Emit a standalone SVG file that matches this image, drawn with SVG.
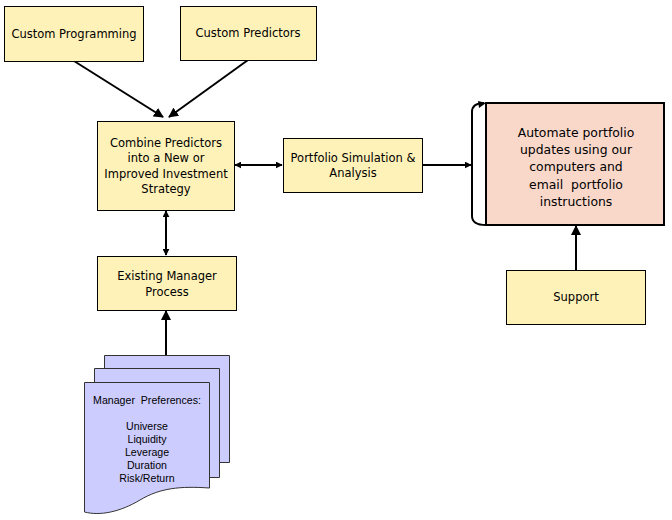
<svg xmlns="http://www.w3.org/2000/svg" width="672" height="520" viewBox="0 0 672 520">
<defs>
<marker id="ah" viewBox="0 0 10 10" refX="9" refY="5" markerWidth="7" markerHeight="7" markerUnits="userSpaceOnUse" orient="auto-start-reverse">
<path d="M0,0 L10,5 L0,10 Z" fill="#000"/>
</marker>
<marker id="ah2" viewBox="0 0 10 10" refX="9" refY="5" markerWidth="10" markerHeight="10" markerUnits="userSpaceOnUse" orient="auto-start-reverse">
<path d="M0,0 L10,5 L0,10 Z" fill="#000"/>
</marker>
<style>
.box{fill:#FFF2B8;stroke:#000;stroke-width:1}
.t{font-family:"DejaVu Sans",Verdana,sans-serif;font-size:11.5px;text-anchor:middle;fill:#000}
.ta{font-family:"DejaVu Sans",Verdana,sans-serif;font-size:12.4px;text-anchor:middle;fill:#000}
.td{font-family:"Liberation Sans",Arial,sans-serif;font-size:10.6px;text-anchor:middle;fill:#000}
.c{fill:none;stroke:#000;stroke-width:2}
.doc{fill:#CCCCFF;stroke:#333;stroke-width:1}
</style>
</defs>
<rect width="672" height="520" fill="#fff"/>
<g id="connectors">
<line class="c" x1="74" y1="61" x2="163" y2="117" marker-end="url(#ah2)"/>
<line class="c" x1="248" y1="60" x2="169" y2="117" marker-end="url(#ah2)"/>
<line class="c" x1="235" y1="165" x2="282" y2="165" marker-start="url(#ah)" marker-end="url(#ah)"/>
<line class="c" x1="422" y1="165" x2="471" y2="165" marker-end="url(#ah)"/>
<line class="c" x1="166" y1="211" x2="166" y2="255" marker-start="url(#ah)" marker-end="url(#ah)"/>
<line class="c" x1="166" y1="355" x2="166" y2="311" marker-end="url(#ah2)"/>
<line class="c" x1="576" y1="270" x2="576" y2="226" marker-end="url(#ah2)"/>
</g>
<g id="custom-programming">
<rect class="box" x="4.5" y="6.5" width="139" height="55"/>
<text class="t" x="74" y="38">Custom Programming</text>
</g>
<g id="custom-predictors">
<rect class="box" x="180.5" y="6.5" width="136" height="54"/>
<text class="t" x="248" y="37">Custom Predictors</text>
</g>
<g id="combine">
<rect class="box" x="97.5" y="121.5" width="137" height="89"/>
<text class="t" x="166" y="147">Combine Predictors</text>
<text class="t" x="166" y="162">into a New or</text>
<text class="t" x="166" y="178">Improved Investment</text>
<text class="t" x="166" y="193">Strategy</text>
</g>
<g id="portfolio-sim">
<rect class="box" x="283.5" y="138.5" width="139" height="54"/>
<text class="t" x="353" y="162">Portfolio Simulation &amp;</text>
<text class="t" x="353" y="177">Analysis</text>
</g>
<g id="automate">
<path d="M484,103 C476,103 472,106 472,112 L472,216 C472,222 476,225 486,225" fill="none" stroke="#000" stroke-width="2"/>
<path d="M478,101 L486,103 L479,108 Z" fill="#000"/>
<rect x="486" y="103" width="178" height="122" fill="#F9D8CA" stroke="#000" stroke-width="2"/>
<text class="ta" x="576" y="137">Automate portfolio</text>
<text class="ta" x="576" y="154">updates using our</text>
<text class="ta" x="576" y="171">computers and</text>
<text class="ta" x="576" y="189" xml:space="preserve">email  portfolio</text>
<text class="ta" x="576" y="206">instructions</text>
</g>
<g id="existing-manager">
<rect class="box" x="97.5" y="256.5" width="139" height="54"/>
<text class="t" x="167" y="280">Existing Manager</text>
<text class="t" x="167" y="296">Process</text>
</g>
<g id="support">
<rect class="box" x="506.5" y="270.5" width="139" height="54"/>
<text class="t" x="576" y="301">Support</text>
</g>
<g id="manager-preferences">
<path class="doc" d="M104.5,355.5 L229.5,355.5 L229.5,462.5 L104.5,462.5 Z"/>
<path class="doc" d="M94.5,368.5 L219.5,368.5 L219.5,477.5 L94.5,477.5 Z"/>
<path class="doc" d="M84.5,382.5 L209.5,382.5 L209.5,488 C180,486 160,488 140,500 C120,512 100,516 84.5,512 Z"/>
<text class="td" x="147" y="404" xml:space="preserve">Manager  Preferences:</text>
<text class="td" x="147" y="430">Universe</text>
<text class="td" x="147" y="443">Liquidity</text>
<text class="td" x="147" y="456">Leverage</text>
<text class="td" x="147" y="469">Duration</text>
<text class="td" x="147" y="482">Risk/Return</text>
</g>
</svg>
